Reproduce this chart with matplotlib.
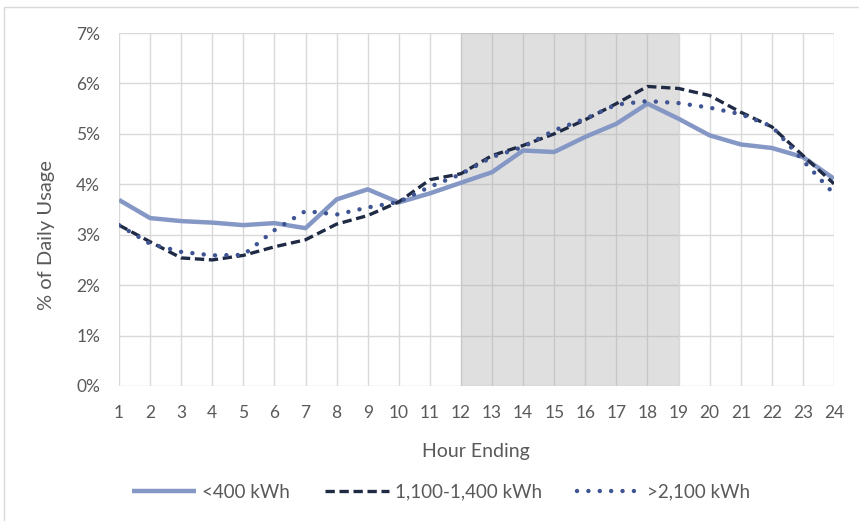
import numpy as np
import matplotlib
matplotlib.use('Agg')
import matplotlib.pyplot as plt
from matplotlib.patches import Rectangle
from matplotlib.ticker import FuncFormatter

plt.rcParams['font.family'] = ['Lato', 'DejaVu Sans']

# hourly share of daily usage (%), by monthly usage tier
hours = list(range(1, 25))
under_400 = [3.69, 3.33, 3.27, 3.24, 3.19, 3.23, 3.13, 3.70, 3.90, 3.64, 3.82, 4.03,
             4.24, 4.67, 4.64, 4.94, 5.20, 5.60, 5.30, 4.97, 4.79, 4.72, 4.54, 4.11]
mid_tier = [3.19, 2.86, 2.54, 2.50, 2.59, 2.76, 2.90, 3.21, 3.38, 3.65, 4.09, 4.21,
            4.57, 4.77, 5.00, 5.28, 5.60, 5.94, 5.90, 5.76, 5.43, 5.14, 4.57, 4.01]
over_2100 = [3.19, 2.82, 2.66, 2.59, 2.60, 3.09, 3.47, 3.40, 3.54, 3.65, 3.95, 4.20,
             4.54, 4.74, 5.07, 5.30, 5.58, 5.65, 5.61, 5.52, 5.39, 5.15, 4.47, 3.81]
series_names = ['<400 kWh', '1,100-1,400 kWh', '>2,100 kWh']
peak_start, peak_end = 12, 19

txt = '#595959'
W, H = 859, 521
fig = plt.figure(figsize=(W / 100, H / 100), dpi=100)
# light chart-area border
fig.patches.append(Rectangle((4 / W, -0.1), 1.2, 1.1 - 7 / H, transform=fig.transFigure,
                             fill=False, edgecolor='#D9D9D9', linewidth=1))
ax = fig.add_axes([119 / W, 1 - 386 / H, 715 / W, 353 / H])

ax.set_xlim(1, 24)
ax.set_ylim(0, 7)
ax.set_xticks(hours)
ax.set_yticks(range(0, 8))
ax.yaxis.set_major_formatter(FuncFormatter(lambda v, p: '%d%%' % v))
ax.grid(True, color='#D9D9D9', linewidth=1)
ax.set_axisbelow(True)
for s in ax.spines.values():
    s.set_visible(False)
ax.tick_params(length=0, labelsize=12.5, colors=txt)
ax.tick_params(axis='y', pad=13.5)
ax.tick_params(axis='x', pad=14)

ax.axvspan(peak_start, peak_end, color='#A6A6A6', alpha=0.35, linewidth=0, zorder=1)

ax.plot(hours, under_400, color='#8497C5', linewidth=3.2, solid_capstyle='butt',
        label=series_names[0], zorder=3)
ax.plot(hours, mid_tier, color='#1F2A44', linewidth=2.4, linestyle=(0, (2.8, 1.4)),
        label=series_names[1], zorder=4)
ax.plot(hours, over_2100, color='#3F5593', linewidth=3.2, linestyle=(0, (0.01, 2.55)),
        dash_capstyle='round', label=series_names[2], zorder=5)

fig.text(476 / W, 1 - 452 / H, 'Hour Ending', fontsize=14, color=txt,
         ha='center', va='center')
fig.text(47 / W, 1 - 235 / H, '% of Daily Usage', fontsize=14.5, color=txt,
         ha='center', va='center', rotation=90)

fig.legend(loc='center', bbox_to_anchor=(441 / W, 1 - 492 / H), ncol=3, frameon=False,
           fontsize=13.5, labelcolor=txt, handlelength=3.4, handletextpad=0.3,
           columnspacing=1.9)

fig.savefig('out.png', dpi=100)
